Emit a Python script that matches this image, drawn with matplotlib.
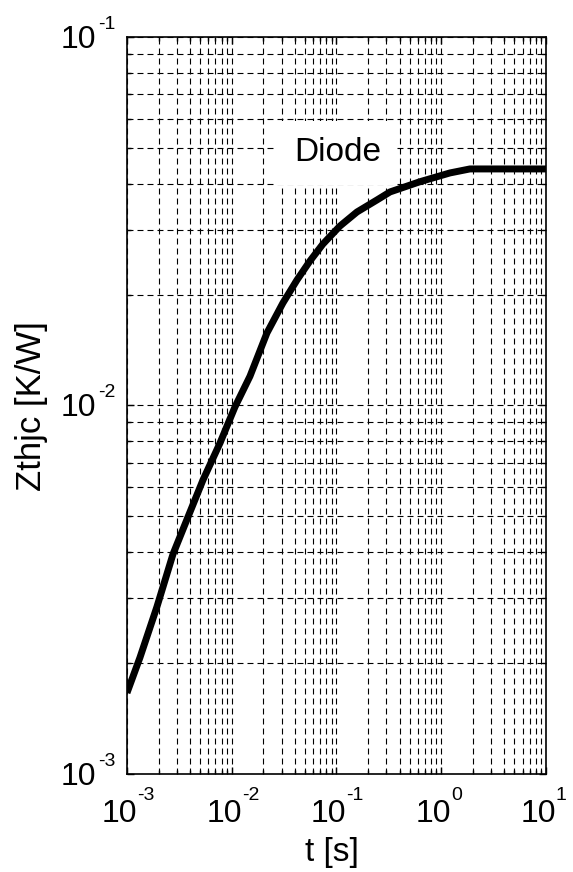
import numpy as np
import matplotlib
matplotlib.use("Agg")
import matplotlib.pyplot as plt
from matplotlib.ticker import LogLocator, NullFormatter

plt.rcParams['font.family'] = ['Liberation Sans', 'DejaVu Sans']
plt.rcParams['lines.scale_dashes'] = False

# Zthjc curve of the diode
t_s = [1e-3, 1.33e-3, 1.93e-3, 2.75e-3, 3.82e-3, 5.32e-3, 7.73e-3, 1.074e-2,
       1.493e-2, 2.169e-2, 3.083e-2, 4.197e-2, 5.585e-2, 7.43e-2, 0.108,
       0.1569, 0.2437, 0.3243, 0.6266, 1.212, 1.879, 10.0]
zth = [1.66e-3, 2.07e-3, 2.84e-3, 3.95e-3, 4.98e-3, 6.28e-3, 7.91e-3, 9.91e-3,
       1.2e-2, 1.573e-2, 1.898e-2, 2.19e-2, 2.467e-2, 2.743e-2, 3.069e-2,
       3.35e-2, 3.612e-2, 3.797e-2, 4.048e-2, 4.276e-2, 4.384e-2, 4.384e-2]

x_exp = [-3, -2, -1, 0, 1]
y_exp = [-3, -2, -1]

fig = plt.figure(figsize=(5.73, 8.72), dpi=100)
ax = fig.add_axes([0.2216, 0.1124, 0.7312, 0.8452])

ax.plot(t_s, zth, color='k', lw=5, solid_joinstyle='round', solid_capstyle='butt')
ax.set_xscale('log')
ax.set_yscale('log')
ax.set_xlim(1e-3, 10)
ax.set_ylim(1e-3, 1e-1)

ax.xaxis.set_major_locator(LogLocator(base=10, numticks=10))
ax.yaxis.set_major_locator(LogLocator(base=10, numticks=10))
ax.xaxis.set_minor_locator(LogLocator(base=10, subs=np.arange(2, 10), numticks=20))
ax.yaxis.set_minor_locator(LogLocator(base=10, subs=np.arange(2, 10), numticks=20))
ax.xaxis.set_minor_formatter(NullFormatter())
ax.yaxis.set_minor_formatter(NullFormatter())
ax.tick_params(which='both', labelbottom=False, labelleft=False)

ax.grid(True, which='both', color='k', lw=0.8, linestyle=(0, (4.3, 2.9)))
ax.set_axisbelow(True)

ax.tick_params(which='both', direction='in', top=True, right=True, width=1)
ax.tick_params(which='major', length=5)
ax.tick_params(which='minor', length=3)
for s in ax.spines.values():
    s.set_linewidth(1.2)

# MATLAB-like "10" with small raised exponent
base_fs, exp_fs = 23, 14
for e in x_exp:
    ax.annotate('10', xy=(10.0 ** e, 0), xycoords=('data', 'axes fraction'),
                xytext=(10, -48), textcoords='offset pixels',
                ha='right', va='baseline', fontsize=base_fs, annotation_clip=False)
    ax.annotate(str(e), xy=(10.0 ** e, 0), xycoords=('data', 'axes fraction'),
                xytext=(10, -26), textcoords='offset pixels',
                ha='left', va='baseline', fontsize=exp_fs, annotation_clip=False)
for e in y_exp:
    ax.annotate('10', xy=(0, 10.0 ** e), xycoords=('axes fraction', 'data'),
                xytext=(-31, -11), textcoords='offset pixels',
                ha='right', va='baseline', fontsize=base_fs, annotation_clip=False)
    ax.annotate(str(e), xy=(0, 10.0 ** e), xycoords=('axes fraction', 'data'),
                xytext=(-29, 8), textcoords='offset pixels',
                ha='left', va='baseline', fontsize=exp_fs, annotation_clip=False)

fig.text(31 / 573, 1 - 406 / 872, 'Zthjc [K/W]', rotation=90, fontsize=25,
         ha='center', va='center')
fig.text(332 / 573, 1 - 852 / 872, 't [s]', fontsize=24, ha='center', va='center')

ax.text(0.502, 0.843, 'Diode', transform=ax.transAxes, fontsize=24,
        ha='center', va='center',
        bbox=dict(facecolor='white', edgecolor='none', pad=12))

fig.savefig('out.png', dpi=100)
